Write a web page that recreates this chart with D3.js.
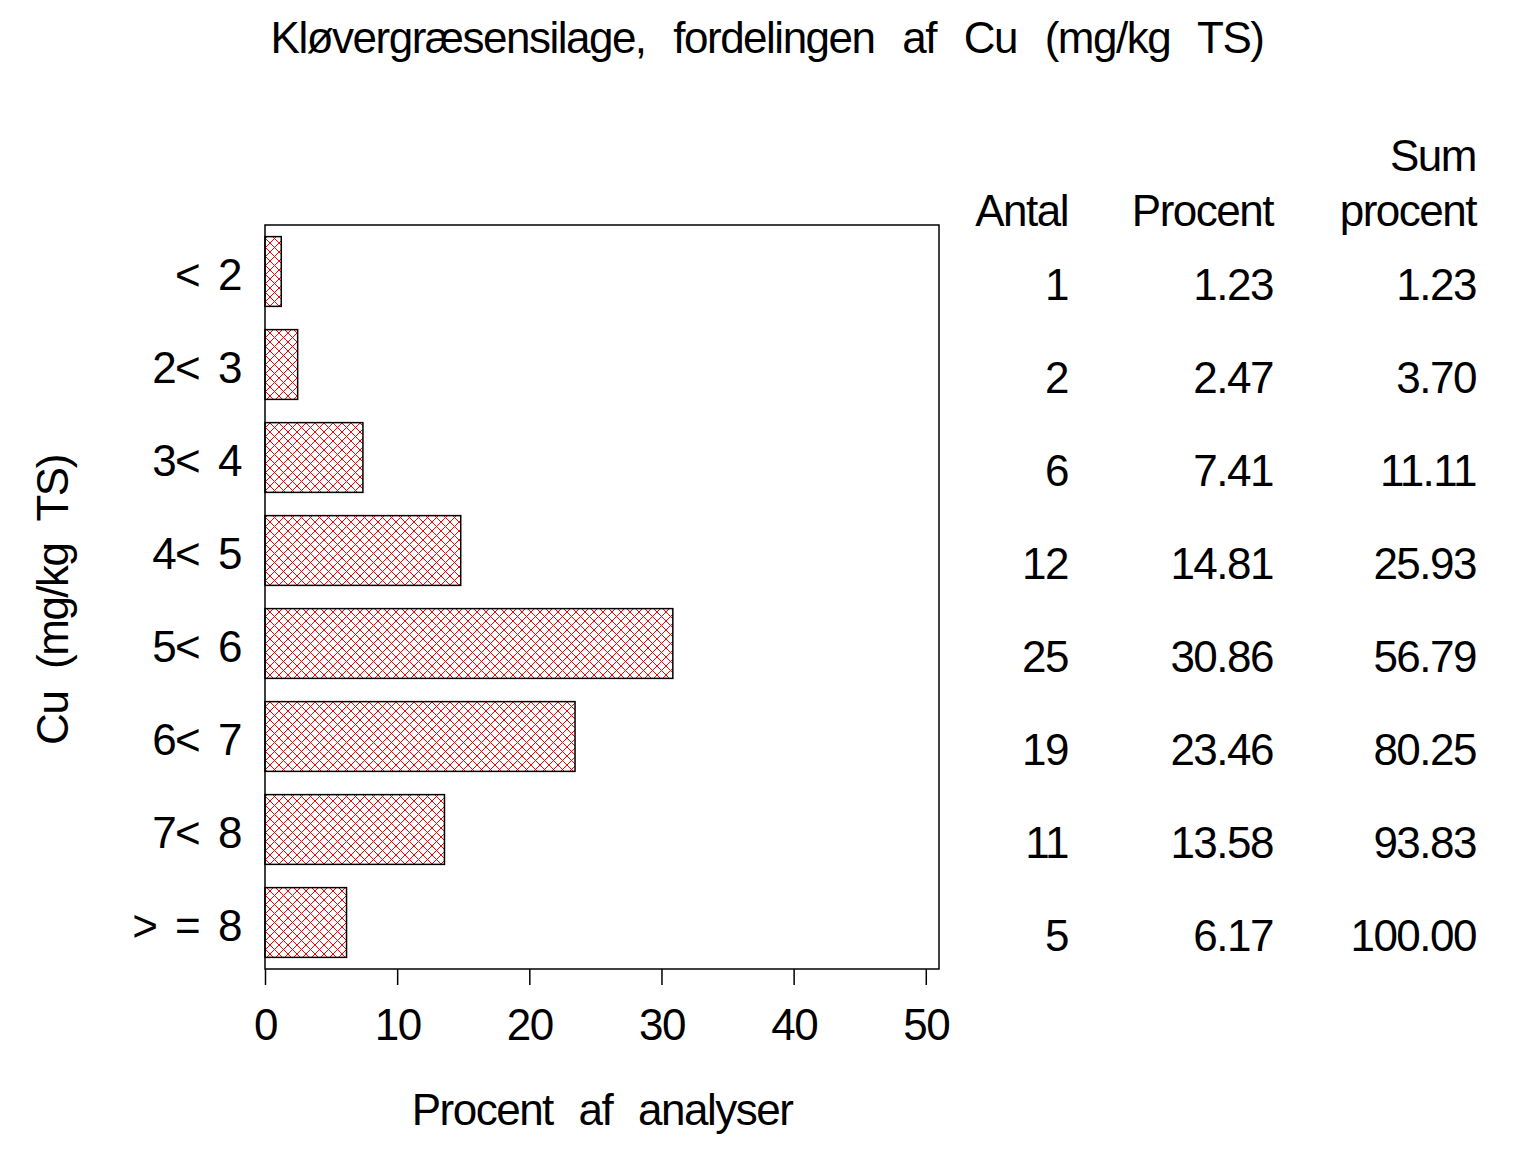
<!DOCTYPE html>
<html>
<head>
<meta charset="utf-8">
<script src="https://cdn.jsdelivr.net/npm/d3@7"></script>
<style>
  html, body { margin: 0; padding: 0; background: #fff; }
  svg { display: block; }
  text { font-family: "Liberation Sans", Arial, Helvetica, sans-serif; fill: #000; letter-spacing: -1.5px; }
</style>
</head>
<body>
<script>
const categories = ["< 2", "2< 3", "3< 4", "4< 5", "5< 6", "6< 7", "7< 8", "> = 8"];
const percent = [1.23, 2.47, 7.41, 14.81, 30.86, 23.46, 13.58, 6.17];
const counts = [1, 2, 6, 12, 25, 19, 11, 5];
const percentLabels = ["1.23", "2.47", "7.41", "14.81", "30.86", "23.46", "13.58", "6.17"];
const cumLabels = ["1.23", "3.70", "11.11", "25.93", "56.79", "80.25", "93.83", "100.00"];
const xTicks = [0, 10, 20, 30, 40, 50];
const titleText = "Kløvergræsensilage, fordelingen af Cu (mg/kg TS)";
const xTitle = "Procent af analyser";
const yTitle = "Cu (mg/kg TS)";

const W = 1536, H = 1152;
const FS = 44;
const svg = d3.select("body").append("svg").attr("width", W).attr("height", H);

const defs = svg.append("defs");
const pat = defs.append("pattern").attr("id", "xhatch")
  .attr("patternUnits", "userSpaceOnUse").attr("width", 9).attr("height", 9);
pat.append("path").attr("d", "M0,0 L9,9 M9,0 L0,9")
  .attr("stroke", "#ff0000").attr("stroke-width", 1).attr("fill", "none");

const pLeft = 265, pRight = 939, pTop = 225, pBottom = 969;
const x = d3.scaleLinear().domain([0, 51]).range([pLeft, pRight]);
const y = d3.scaleBand().domain(categories).range([pTop, pBottom])
  .paddingInner(0.25).paddingOuter(0.125);

// bars
svg.append("g").selectAll("rect").data(categories).join("rect")
  .attr("x", x(0))
  .attr("y", d => y(d))
  .attr("width", (d, i) => x(percent[i]) - x(0))
  .attr("height", y.bandwidth())
  .attr("fill", "url(#xhatch)")
  .attr("stroke", "#000").attr("stroke-width", 1.5);

// frame
svg.append("rect").attr("x", pLeft).attr("y", pTop)
  .attr("width", pRight - pLeft).attr("height", pBottom - pTop)
  .attr("fill", "none").attr("stroke", "#000").attr("stroke-width", 1.5);

// x axis
const xAxis = d3.axisBottom(x).tickValues(xTicks).tickSize(16).tickPadding(16).tickFormat(d3.format("d"));
const gx = svg.append("g").attr("transform", `translate(0,${pBottom})`).call(xAxis);
gx.select(".domain").remove();
gx.selectAll(".tick line").attr("stroke", "#000").attr("stroke-width", 1.5);
gx.selectAll(".tick text").attr("font-size", FS).attr("fill", "#000")
  .attr("font-family", "Liberation Sans, Arial, sans-serif")
  .attr("dy", null).attr("y", 71);

// y labels
const yAxis = d3.axisLeft(y).tickSize(0).tickPadding(24);
const gy = svg.append("g").attr("transform", `translate(${pLeft},0)`).call(yAxis);
gy.select(".domain").remove();
gy.selectAll(".tick text").attr("font-size", FS).attr("fill", "#000")
  .attr("font-family", "Liberation Sans, Arial, sans-serif")
  .attr("word-spacing", "8px")
  .attr("dy", "0.42em");

// title
svg.append("text").attr("x", 767).attr("y", 53).attr("text-anchor", "middle")
  .attr("font-size", FS).attr("word-spacing", "17px").text(titleText);

// x title
svg.append("text").attr("x", 602).attr("y", 1125).attr("text-anchor", "middle")
  .attr("font-size", FS).attr("word-spacing", "15px").text(xTitle);

// y title
svg.append("text").attr("transform", "translate(68,600) rotate(-90)")
  .attr("text-anchor", "middle")
  .attr("font-size", FS).attr("word-spacing", "12px").text(yTitle);

// table
const cols = [1068, 1273, 1476];
const tbl = svg.append("g").attr("font-size", FS).attr("text-anchor", "end");
tbl.append("text").attr("x", cols[0]).attr("y", 226).text("Antal");
tbl.append("text").attr("x", cols[1]).attr("y", 226).text("Procent");
tbl.append("text").attr("x", cols[2]).attr("y", 171).text("Sum");
tbl.append("text").attr("x", cols[2]).attr("y", 226).text("procent");
const rowY = (d) => y(d) + y.bandwidth() / 2 + 28;
tbl.selectAll("text.c0").data(categories).join("text").attr("class", "c0")
  .attr("x", cols[0]).attr("y", rowY).text((d, i) => counts[i]);
tbl.selectAll("text.c1").data(categories).join("text").attr("class", "c1")
  .attr("x", cols[1]).attr("y", rowY).text((d, i) => percentLabels[i]);
tbl.selectAll("text.c2").data(categories).join("text").attr("class", "c2")
  .attr("x", cols[2]).attr("y", rowY).text((d, i) => cumLabels[i]);
</script>
</body>
</html>
